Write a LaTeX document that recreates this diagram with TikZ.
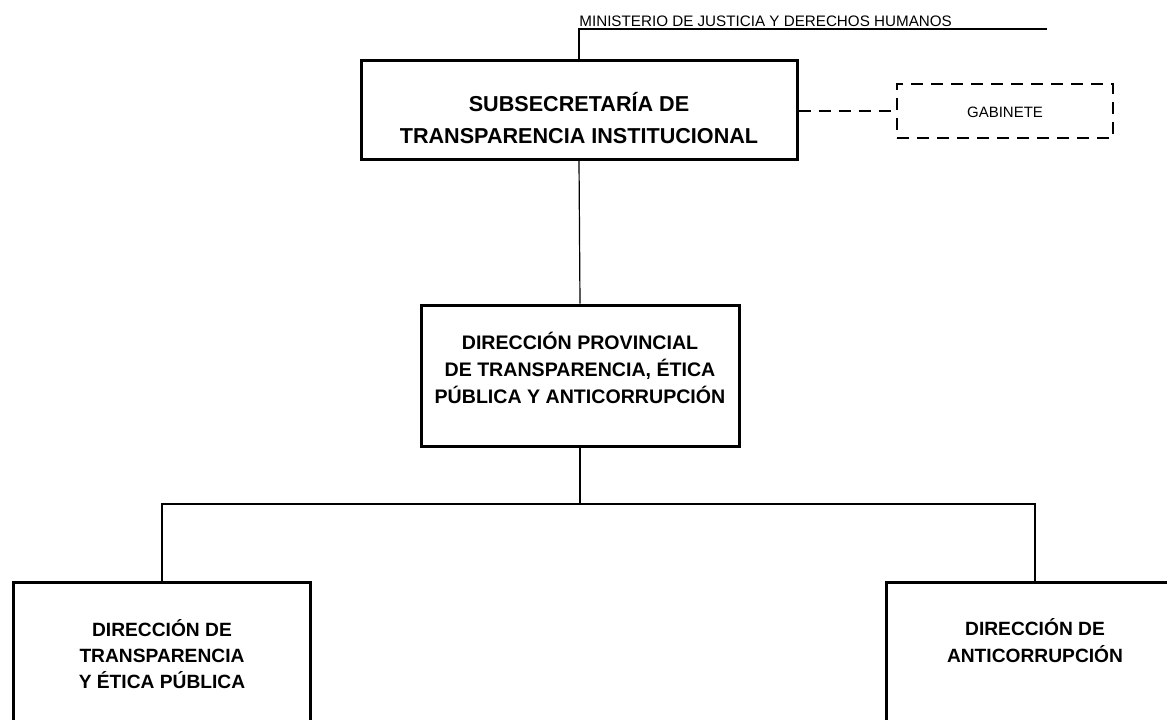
\documentclass[tikz,border=0pt]{standalone}
\usepackage{fontspec}
\setmainfont{Liberation Sans}
\usetikzlibrary{positioning}

\tikzset{
  box/.style={draw, line width=1.5pt, inner sep=0pt},
  dashbox/.style={draw, line width=1.2pt, dash pattern=on 6pt off 4pt, inner sep=0pt},
  link/.style={line width=0.6pt},
  boxtext/.style={align=center, inner sep=0pt, font=\bfseries},
}

\begin{document}
\begin{tikzpicture}[x=0.5pt,y=-0.5pt]
\useasboundingbox (0,0) rectangle (1167,719);
\clip (0,0) rectangle (1167,719);

% boxes
\node[box, minimum width=218pt, minimum height=49.5pt] (subsec) at (579,109.5) {};
\node[dashbox, minimum width=108pt, minimum height=27pt] (gab) at (1005,111) {};
\node[box, minimum width=159pt, minimum height=70.5pt] (dprov) at (580,375.5) {};
\node[box, minimum width=148.5pt, minimum height=100pt] (dtep) at (162,682) {};
\node[box, minimum width=148.5pt, minimum height=100pt] (danti) at (1035,682) {};

% texts
\node[boxtext, font=\bfseries\fontsize{10.8}{16}\selectfont] (subsec-txt) at (579,118)
  {SUBSECRETARÍA DE\\TRANSPARENCIA INSTITUCIONAL};
\node[inner sep=0pt, font=\fontsize{7.5}{9}\selectfont] (gab-txt) at (1005,112) {GABINETE};
\node[boxtext, font=\bfseries\fontsize{9.8}{13.5}\selectfont] (dprov-txt) at (580,368)
  {DIRECCIÓN PROVINCIAL\\DE TRANSPARENCIA, ÉTICA\\PÚBLICA Y ANTICORRUPCIÓN};
\node[boxtext, font=\bfseries\fontsize{9.6}{13.2}\selectfont] (dtep-txt) at (162,654)
  {DIRECCIÓN DE\\TRANSPARENCIA\\Y ÉTICA PÚBLICA};
\node[boxtext, font=\bfseries\fontsize{9.6}{13.5}\selectfont] (danti-txt) at (1035,641)
  {DIRECCIÓN DE\\ANTICORRUPCIÓN};

% ministerio
\coordinate (minL) at (579,29);
\coordinate (minR) at (1047,29);
\node[anchor=south west, inner sep=1pt, font=\fontsize{7.6}{9}\selectfont] (min) at (577,29)
  {MINISTERIO DE JUSTICIA Y DERECHOS HUMANOS};
\draw[link] (minR) -- (minL) -- (subsec.north);

% connectors
\draw[link] (subsec.south) -- (dprov.north);
\draw[line width=1.2pt, dash pattern=on 6pt off 4pt] (subsec.east |- gab.west) -- (gab.west);
\coordinate (bus) at (580,504);
\draw[link] (dprov.south) -- (bus);
\draw[link] (dtep.north) |- (bus) -| (danti.north);
\end{tikzpicture}
\end{document}
